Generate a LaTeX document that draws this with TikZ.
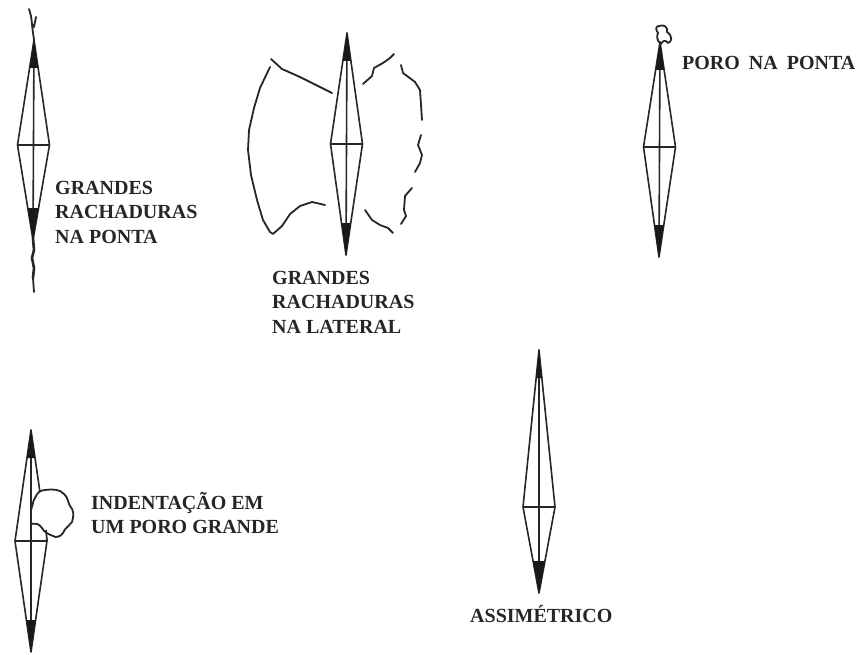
\documentclass[tikz,border=0pt]{standalone}
\usepackage{fontspec}
\setmainfont{Liberation Serif}
\newcommand{\fuso}[6]{% x top, y top, x bottom, y bottom, y waist, half width
  \pgfmathsetmacro{\xm}{(#1+#3)/2}
  \pgfmathsetmacro{\wt}{#6*28/(#5-#2)}
  \pgfmathsetmacro{\wb}{#6*32/(#4-#5)}
  \draw[ln] (\xm-#6,#5) -- (#1,#2) -- (\xm+#6,#5) -- (#3,#4) -- cycle;
  \draw[ln] (\xm-#6,#5) -- (\xm+#6,#5);
  \draw[ln] (#1,#2) -- (#3,#4);
  \fill[black!90] (#1,#2) -- (#1+\wt,#2+28) -- (#1-\wt,#2+28) -- cycle;
  \fill[black!90] (#3,#4) -- (#3+\wb,#4-32) -- (#3-\wb,#4-32) -- cycle;
}
\tikzset{
  ln/.style={line width=1.6pt,line join=round,black!85},
  crack/.style={line width=1.8pt,line join=round,line cap=round,black!85},
  lab/.style={font=\fontsize{20}{24.5}\selectfont\bfseries,align=left,anchor=north west,inner sep=0pt,text=black!85}
}
\begin{document}
\begin{tikzpicture}[x=1pt,y=-1pt]
\useasboundingbox (0,0) rectangle (861,655);
\fill[white] (0,0) rectangle (861,655);
% A
\fuso{34}{40}{33}{240}{145}{16}
\draw[crack] (29,9) -- (31,16) -- (32,24) -- (34,27) -- (36,17);
\draw[crack] (32,25) -- (34,40);
\draw[line width=2.6pt,black!85] (33,238) -- (34,250) -- (32,258) -- (34,268) -- (33,278);
\draw[crack] (33,278) -- (34,292);
\node[lab] (a) at (55,181) {GRANDES\\RACHADURAS\\NA PONTA};
% B
\fuso{347}{33}{346}{255}{144}{16}
\draw[crack] (271,59) -- (282,69) -- (300,77) -- (332,93);
\draw[crack] (270,67) -- (260,88) -- (254,108) -- (249,130) -- (248,150) -- (251,175) -- (257,200) -- (263,220) -- (270,232) -- (273,234) -- (282,226) -- (290,214) -- (300,206) -- (312,202) -- (325,205);
\draw[crack] (363,84) -- (372,76) -- (374,68) -- (383,63) -- (390,58) -- (394,54);
\draw[crack] (401,65) -- (403,73) -- (415,82) -- (420,90) -- (421,105) -- (422,120);
\draw[crack] (421,135) -- (418,145) -- (422,155) -- (420,163) -- (415,172);
\draw[crack] (412,188) -- (405,196) -- (404,210) -- (406,216) -- (401,224);
\draw[crack] (365,210) -- (372,220) -- (380,225) -- (388,228) -- (393,233);
\node[lab] (b) at (272,271) {GRANDES\\RACHADURAS\\NA LATERAL};
% C
\fuso{660}{42}{659}{257}{147}{16}
\draw[crack] (661,44) .. controls (656,40) and (657,36) .. (658,33) .. controls (655,29) and (656,26) .. (659,26) .. controls (664,24) and (668,27) .. (667,32) .. controls (673,36) and (672,42) .. (668,43) .. controls (666,40) and (663,40) .. (661,44);
\node[lab] (c) at (682,56) {PORO\hspace{4pt} NA\hspace{4pt} PONTA};
% D
\fuso{31}{430}{31}{652}{541}{16}
\fill[white] (37.5,492) -- (47,492) -- (47,539) -- (41,539) -- (36,525) -- cycle;
\draw[crack] (31,510) .. controls (33,505) and (33,500) .. (35,498) .. controls (37,493) and (40,490) .. (45,490) .. controls (52,489) and (60,489) .. (64,494) .. controls (68,497) and (68,503) .. (70,506) .. controls (74,510) and (74,516) .. (72,522) .. controls (68,527) and (65,528) .. (63,533) .. controls (60,537) and (56,538) .. (53,536) .. controls (48,534) and (44,532) .. (42,528) .. controls (39,524) and (37,523) .. (31,524);
\draw[ln] (47,541) -- (46,530);
\node[lab] (d) at (91,492) {INDENTAÇÃO EM\\UM PORO GRANDE};
% E
\fuso{539}{350}{539}{593}{507}{16}
\node[lab] (e) at (470,605) {ASSIMÉTRICO};
\end{tikzpicture}
\end{document}
